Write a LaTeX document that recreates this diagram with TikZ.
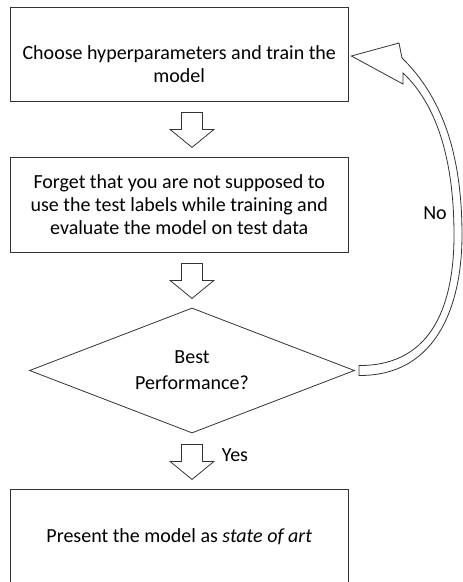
\documentclass[tikz,border=0pt]{standalone}
\usepackage{fontspec}
\setmainfont{Carlito}
\usetikzlibrary{shapes.geometric,calc}

\begin{document}
\begin{tikzpicture}[x=1pt,y=-1pt,
  stepbox/.style={draw=black!80,line width=0.8pt,rectangle,minimum width=337.5pt,minimum height=95pt,align=center,inner sep=0pt,font=\fontsize{20}{23}\selectfont},
  decision/.style={draw=black!80,line width=0.8pt,diamond,aspect=2.6,minimum width=325pt,minimum height=125pt,inner sep=0pt,align=center,font=\fontsize{20}{26}\selectfont},
  lbl/.style={font=\fontsize{20}{22}\selectfont,inner sep=1pt},
  dnarrow/.pic={\draw[draw=black!80,line width=0.8pt,fill=white] (-10.5,0) -- (10.5,0) -- (10.5,17) -- (22,17) -- (0,35) -- (-22,17) -- (-10.5,17) -- cycle;},
  loopback/.style={draw=black!80,line width=0.8pt,fill=white,line join=miter}]
\fill[white,use as bounding box] (0,0) rectangle (463,582);
% the steps
\node[stepbox,minimum height=94pt] (choose) at (179.25,54) {\rule{0pt}{35pt}Choose hyperparameters and train the\\model};
\node[stepbox] (forget) at (179.25,204.5) {Forget that you are not supposed to\\use the test labels while training and\\evaluate the model on test data};
\node[decision] (perf) at (192,370.5) {Best\\Performance?};
\node[stepbox,minimum height=96pt] (present) at (179.25,537) {Present the model as \textit{state of art}};
% down arrows
\foreach \src in {choose,forget,perf}
  \path (\src.south -| perf.north) ++(0,11) pic {dnarrow};
\node[lbl] (yes) at (235,455) {Yes};
% back to the start
\coordinate (nobase) at ([xshift=4pt]perf.east);
\coordinate (notip) at ([shift={(3,2)}]choose.east);
\draw[loopback] ($(nobase)+(0,5)$) .. controls (440,376) and (462,300) .. (462,235)
  .. controls (462,150) and (440,95) .. (402,58) -- (399,43) -- (notip) -- (403,84) -- (403,73)
  .. controls (432,100) and (454,150) .. (454,235) .. controls (454,300) and (435,366) .. ($(nobase)+(0,-5)$) -- cycle;
\node[lbl] (no) at (435,213) {No};
\end{tikzpicture}
\end{document}
